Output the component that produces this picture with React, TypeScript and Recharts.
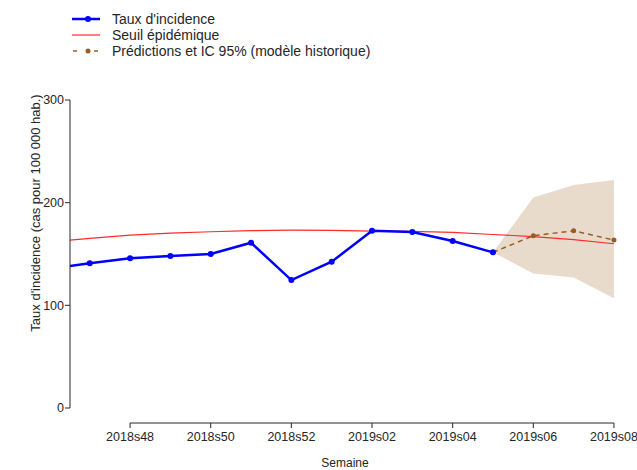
import { Area, ComposedChart, Legend, Line, ReferenceLine, XAxis, YAxis } from "recharts";

const weeks = [
  "2018s46", "2018s47", "2018s48", "2018s49", "2018s50", "2018s51", "2018s52",
  "2019s01", "2019s02", "2019s03", "2019s04", "2019s05", "2019s06", "2019s07", "2019s08",
];
const tauxIncidence = [135.7, 140.9, 145.8, 148, 150, 161, 124.6, 142.5, 172.6, 171.4, 162.6, 151.6, null, null, null];
const seuilEpidemique = [161.7, 165.2, 168.4, 170.4, 171.7, 172.8, 173.3, 173, 172.3, 172, 171, 169, 167, 164, 160];
const predictions = [null, null, null, null, null, null, null, null, null, null, null, 151.6, 167.8, 172.6, 163.6];
const icBas = [null, null, null, null, null, null, null, null, null, null, null, 151.6, 131.1, 127.2, 106.8];
const icHaut = [null, null, null, null, null, null, null, null, null, null, null, 151.6, 205.1, 217.1, 222];
const xTicks = [2, 4, 6, 8, 10, 12, 14];
const yTicks = [0, 100, 200, 300];

const FONT = '"Liberation Sans", Arial, Helvetica, sans-serif';
const BLUE = "#0000ff";
const RED = "#ff2a2a";
const BROWN = "#9a5c22";
const CI_FILL = "#e9dbcb";
const AXIS = "#262626";

const X_MIN = 0.51;
const Y_MIN = -14.6;

const data = weeks.map((week, i) => ({
  idx: i,
  week,
  taux: tauxIncidence[i],
  seuil: seuilEpidemique[i],
  pred: predictions[i],
  ic: icBas[i] == null || icHaut[i] == null ? null : [icBas[i], icHaut[i]],
}));

const legendItems = [
  { label: "Taux d'incidence", kind: "taux" },
  { label: "Seuil épidémique", kind: "seuil" },
  { label: "Prédictions et IC 95% (modèle historique)", kind: "pred" },
];

function LegendIcon({ kind }: { kind: string }) {
  return (
    <svg width={30} height={16} style={{ display: "block" }}>
      {kind === "taux" && (
        <>
          <line x1={2} y1={8} x2={30} y2={8} stroke={BLUE} strokeWidth={2.5} />
          <circle cx={18} cy={8} r={3} fill={BLUE} />
        </>
      )}
      {kind === "seuil" && <line x1={2} y1={8} x2={30} y2={8} stroke={RED} strokeWidth={1.2} />}
      {kind === "pred" && (
        <>
          <line x1={3} y1={8} x2={7} y2={8} stroke={BROWN} strokeWidth={1.5} />
          <circle cx={18} cy={8} r={2.5} fill={BROWN} />
          <line x1={24} y1={8} x2={28} y2={8} stroke={BROWN} strokeWidth={1.5} />
        </>
      )}
    </svg>
  );
}

function LegendContent() {
  return (
    <div style={{ fontFamily: FONT, fontSize: 14, color: AXIS }}>
      {legendItems.map((item) => (
        <div key={item.kind} style={{ display: "flex", alignItems: "center", height: 16 }}>
          <LegendIcon kind={item.kind} />
          <span style={{ marginLeft: 12, whiteSpace: "nowrap" }}>{item.label}</span>
        </div>
      ))}
    </div>
  );
}

function YTitle(props: any) {
  const vb = props.viewBox || { x: 0, y: 0 };
  const x = vb.x + 35;
  const y = vb.y + 113;
  return (
    <text
      x={x}
      y={y}
      transform={`rotate(-90, ${x}, ${y})`}
      textAnchor="middle"
      dominantBaseline="central"
      fontSize={13}
      fill={AXIS}
      fontFamily={FONT}
    >
      Taux d'incidence (cas pour 100 000 hab.)
    </text>
  );
}

export default function App() {
  return (
    <div style={{ position: "absolute", left: 0, top: 0, background: "#fff" }}>
      <ComposedChart
        width={637}
        height={470}
        data={data}
        margin={{ top: 100, right: 17, bottom: 0, left: 0 }}
        style={{ fontFamily: FONT }}
      >
        <XAxis
          dataKey="idx"
          type="number"
          domain={[X_MIN, 14.15]}
          allowDataOverflow
          ticks={xTicks}
          tickFormatter={(v) => weeks[v]}
          axisLine={false}
          tickLine={{ stroke: AXIS }}
          tickSize={5}
          tickMargin={4}
          height={47}
          tick={{ fontSize: 12.5, fill: AXIS }}
          label={{ value: "Semaine", position: "insideBottom", offset: 3, fontSize: 12, fill: AXIS }}
        />
        <YAxis
          type="number"
          domain={[Y_MIN, 300]}
          allowDataOverflow
          ticks={yTicks}
          axisLine={false}
          tickLine={{ stroke: AXIS }}
          tickSize={5}
          tickMargin={1}
          width={70}
          tick={{ fontSize: 12.5, fill: AXIS }}
          label={{ content: (p: any) => <YTitle {...p} /> }}
        />
        <Legend
          layout="horizontal"
          align="center"
          verticalAlign="middle"
          wrapperStyle={{ top: 11, left: 70, width: "auto" }}
          content={() => <LegendContent />}
        />
        <Area
          dataKey="ic"
          stroke="none"
          fill={CI_FILL}
          fillOpacity={1}
          isAnimationActive={false}
          legendType="none"
        />
        <Line
          dataKey="seuil"
          stroke={RED}
          strokeWidth={1.2}
          dot={false}
          isAnimationActive={false}
        />
        <Line
          dataKey="pred"
          stroke={BROWN}
          strokeWidth={1.5}
          strokeDasharray="5 4"
          dot={{ r: 2.5, fill: BROWN, stroke: BROWN, strokeWidth: 0 }}
          isAnimationActive={false}
        />
        <Line
          dataKey="taux"
          stroke={BLUE}
          strokeWidth={2.5}
          dot={{ r: 3, fill: BLUE, stroke: BLUE, strokeWidth: 0 }}
          isAnimationActive={false}
        />
        <ReferenceLine
          segment={[{ x: X_MIN, y: 0 }, { x: X_MIN, y: 300 }]}
          stroke={AXIS}
          strokeWidth={1}
          ifOverflow="visible"
        />
        <ReferenceLine
          segment={[{ x: 2, y: Y_MIN }, { x: 14, y: Y_MIN }]}
          stroke={AXIS}
          strokeWidth={1}
          ifOverflow="visible"
        />
      </ComposedChart>
    </div>
  );
}
